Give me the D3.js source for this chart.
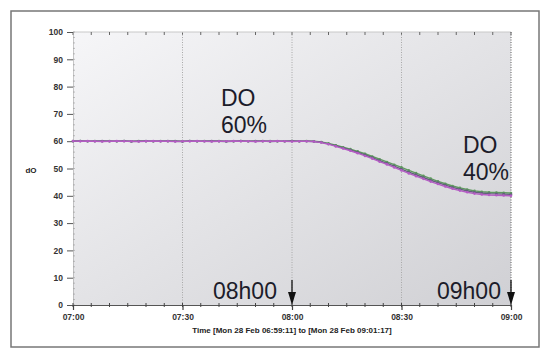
<!DOCTYPE html>
<html>
<head>
<meta charset="utf-8">
<script src="https://cdn.jsdelivr.net/npm/d3@7"></script>
<style>
  body { margin: 0; background: #fff; }
  svg { display: block; font-family: "Liberation Sans", Arial, sans-serif; }
  .tick-label { font-size: 8.5px; font-weight: bold; fill: #333; }
  .note { font-family: "Liberation Sans", Arial, sans-serif; font-size: 23px; fill: #1c1c2a; }
</style>
</head>
<body>
<svg width="550" height="360"></svg>
<script>
// minutes after 07:00 on Mon 28 Feb
const minutes = [0,2,4,6,8,10,12,14,16,18,20,22,24,26,28,30,32,34,36,38,40,42,44,46,48,50,52,54,56,58,60,62,64,
  66,68,70,72,74,76,78,80,82,84,86,88,90,92,94,96,98,100,102,104,106,108,110,112,114,116,118,120]

const doPurple = [60.1,60.0,60.1,60.0,59.9,60.0,60.1,60.0,60.0,59.9,60.0,60.1,60.0,60.0,59.9,60.0,60.0,60.1,60.0,59.9,60.0,60.0,60.1,60.0,60.0,59.9,60.0,60.0,60.1,60.0,59.9,60.0,60.0,
  59.9,59.5,58.9,58.1,57.3,56.5,55.6,54.6,53.6,52.5,51.5,50.4,49.3,48.2,47.2,46.2,45.2,44.3,43.4,42.6,41.9,41.3,40.8,40.5,40.3,40.2,40.1,40.0]
const doGray = [60.0,60.1,60.0,60.0,60.1,60.0,60.0,60.1,59.9,60.0,60.1,60.0,60.0,60.1,60.0,59.9,60.1,60.0,60.0,60.1,60.0,59.9,60.0,60.1,60.0,60.0,60.1,59.9,60.0,60.0,60.1,60.0,60.0,
  59.9,59.6,59.0,58.3,57.5,56.8,55.9,55.0,54.0,52.9,51.9,50.9,49.8,48.7,47.7,46.7,45.7,44.8,43.9,43.1,42.4,41.8,41.3,41.0,40.8,40.7,40.6,40.5]
const doGreen = [60.1,60.1,60.0,60.1,60.0,60.1,60.0,60.1,60.0,60.1,60.0,60.0,60.1,60.0,60.1,60.0,60.1,60.0,60.1,60.0,60.1,60.0,60.0,60.1,60.0,60.1,60.0,60.1,60.0,60.0,60.1,60.0,60.1,
  60.0,59.7,59.2,58.5,57.8,57.1,56.3,55.4,54.4,53.4,52.4,51.4,50.4,49.3,48.3,47.3,46.3,45.3,44.4,43.6,42.9,42.3,41.8,41.5,41.3,41.2,41.1,41.0]

const yTicks = [0,10,20,30,40,50,60,70,80,90,100]
const xTickLabels = ["07:00","07:30","08:00","08:30","09:00"]

const svg = d3.select("svg")
const plotLeft = 73, plotRight = 511, plotTop = 32, plotBottom = 305

const t0 = new Date(2011, 1, 28, 7, 0, 0)
const toDate = m => new Date(t0.getTime() + m * 60000)

const scaleX = d3.scaleTime()
    .domain([t0, toDate(120)])
    .range([plotLeft, plotRight])
const scaleY = d3.scaleLinear()
    .domain([0, 100])
    .range([plotBottom, plotTop])

// outer frame
svg.append("rect")
    .attr("x", 11).attr("y", 11)
    .attr("width", 528).attr("height", 336)
    .attr("fill", "#fff")
    .attr("stroke", "#777").attr("stroke-width", 1.5)

const defs = svg.append("defs")
const grad = defs.append("linearGradient")
    .attr("id", "bg").attr("x1", "0").attr("y1", "0").attr("x2", "1").attr("y2", "1")
grad.append("stop").attr("offset", "0%").attr("stop-color", "#f6f6f8")
grad.append("stop").attr("offset", "100%").attr("stop-color", "#d0d0d4")

svg.append("rect")
    .attr("x", plotLeft).attr("y", plotTop)
    .attr("width", plotRight - plotLeft).attr("height", plotBottom - plotTop)
    .attr("fill", "url(#bg)")

// top border + minor ticks
svg.append("line")
    .attr("x1", plotLeft).attr("x2", plotRight).attr("y1", plotTop).attr("y2", plotTop)
    .attr("stroke", "#c8c8c8")

const minorX = d3.range(0, 121, 5).map(toDate)
svg.selectAll("line.top-tick")
    .data(minorX)
    .enter().append("line")
    .attr("class", "top-tick")
    .attr("x1", d => scaleX(d)).attr("x2", d => scaleX(d))
    .attr("y1", plotTop).attr("y2", plotTop + 3)
    .attr("stroke", "#666")

// vertical dotted grid
const gridTimes = [30, 60, 90, 120].map(toDate)
svg.selectAll("line.grid")
    .data(gridTimes)
    .enter().append("line")
    .attr("class", "grid")
    .attr("x1", d => scaleX(d)).attr("x2", d => scaleX(d))
    .attr("y1", plotTop).attr("y2", plotBottom)
    .attr("stroke", (d, i) => i == 3 ? "#777" : "#a8a8a8")
    .attr("stroke-width", (d, i) => i == 3 ? 1.2 : 1)
    .attr("stroke-dasharray", "1,1.5")

// y axis
const axisY = d3.axisLeft(scaleY)
    .tickValues(yTicks)
    .tickSize(6)
    .tickSizeOuter(0)
    .tickPadding(4)
const gy = svg.append("g")
    .attr("transform", `translate(${plotLeft},0)`)
    .call(axisY)
gy.attr("font-family", null).attr("font-size", null)
gy.select(".domain").attr("stroke", "#999").attr("stroke-dasharray", "1,1")
gy.selectAll(".tick line").attr("stroke", "#555")
gy.selectAll(".tick text").attr("class", "tick-label")

svg.selectAll("line.ymin")
    .data(d3.range(0, 101, 2))
    .enter().append("line")
    .attr("class", "ymin")
    .attr("x1", plotLeft).attr("x2", plotLeft + 2)
    .attr("y1", d => scaleY(d)).attr("y2", d => scaleY(d))
    .attr("stroke", "#999").attr("stroke-width", 0.6)

// x axis
const axisX = d3.axisBottom(scaleX)
    .tickValues([0, 30, 60, 90, 120].map(toDate))
    .tickFormat((d, i) => xTickLabels[i])
    .tickSize(5)
    .tickSizeOuter(0)
    .tickPadding(4)
const gx = svg.append("g")
    .attr("transform", `translate(0,${plotBottom})`)
    .call(axisX)
gx.attr("font-family", null).attr("font-size", null)
gx.select(".domain").attr("stroke", "#555").attr("stroke-width", 1.2)
gx.selectAll(".tick line").attr("stroke", "#444").attr("stroke-width", 1.2)
gx.selectAll(".tick text").attr("class", "tick-label")

svg.selectAll("line.xmin")
    .data(minorX)
    .enter().append("line")
    .attr("class", "xmin")
    .attr("x1", d => scaleX(d)).attr("x2", d => scaleX(d))
    .attr("y1", plotBottom - 2).attr("y2", plotBottom + 2)
    .attr("stroke", "#444")

// axis titles
svg.append("text")
    .attr("x", 292).attr("y", 333)
    .attr("text-anchor", "middle")
    .attr("font-size", "8px").attr("font-weight", "bold").attr("fill", "#222")
    .text("Time [Mon 28 Feb 06:59:11] to [Mon 28 Feb 09:01:17]")
svg.append("text")
    .attr("x", 31).attr("y", 173)
    .attr("text-anchor", "middle")
    .attr("font-size", "8px").attr("font-weight", "bold").attr("fill", "#222")
    .text("dO")

// series
const series = [
    { name: "green", values: doGreen, color: "#5f9a5f" },
    { name: "gray", values: doGray, color: "#62627a" },
    { name: "purple", values: doPurple, color: "#b45cc4" }
]
const lineGen = d3.line()
    .x((d, i) => scaleX(toDate(minutes[i])))
    .y(d => scaleY(d))

const seriesGroup = svg.selectAll("g.series")
    .data(series)
    .enter().append("g")
    .attr("class", "series")

seriesGroup.append("path")
    .attr("d", d => lineGen(d.values))
    .attr("fill", "none")
    .attr("stroke", d => d.color)
    .attr("stroke-width", 1.4)

seriesGroup.selectAll("circle")
    .data(d => d.values.map((v, i) => ({ v, i, color: d.color })))
    .enter().append("circle")
    .attr("cx", d => scaleX(toDate(minutes[d.i])))
    .attr("cy", d => scaleY(d.v))
    .attr("r", 1.3)
    .attr("fill", d => d.color)

// annotations
const notes = [
    { x: 221, y: 105.5, lines: ["DO", "60%"] },
    { x: 463, y: 152.5, lines: ["DO", "40%"] },
    { x: 213, y: 299, lines: ["08h00"] },
    { x: 437, y: 299, lines: ["09h00"] }
]
const noteText = svg.selectAll("text.note")
    .data(notes)
    .enter().append("text")
    .attr("class", "note")
    .attr("x", d => d.x).attr("y", d => d.y)
noteText.selectAll("tspan")
    .data(d => d.lines.map((s, i) => ({ s, i, x: d.x })))
    .enter().append("tspan")
    .attr("x", d => d.x)
    .attr("dy", d => d.i == 0 ? 0 : 27)
    .text(d => d.s)

const arrows = [60, 120].map(toDate)
arrows.forEach(t => {
    const x = scaleX(t)
    svg.append("line")
        .attr("x1", x).attr("x2", x)
        .attr("y1", 280).attr("y2", 295)
        .attr("stroke", "#111").attr("stroke-width", 1.3)
    svg.append("path")
        .attr("d", `M${x - 4},${292} L${x + 4},${292} L${x},${305} Z`)
        .attr("fill", "#111")
})
</script>
</body>
</html>
